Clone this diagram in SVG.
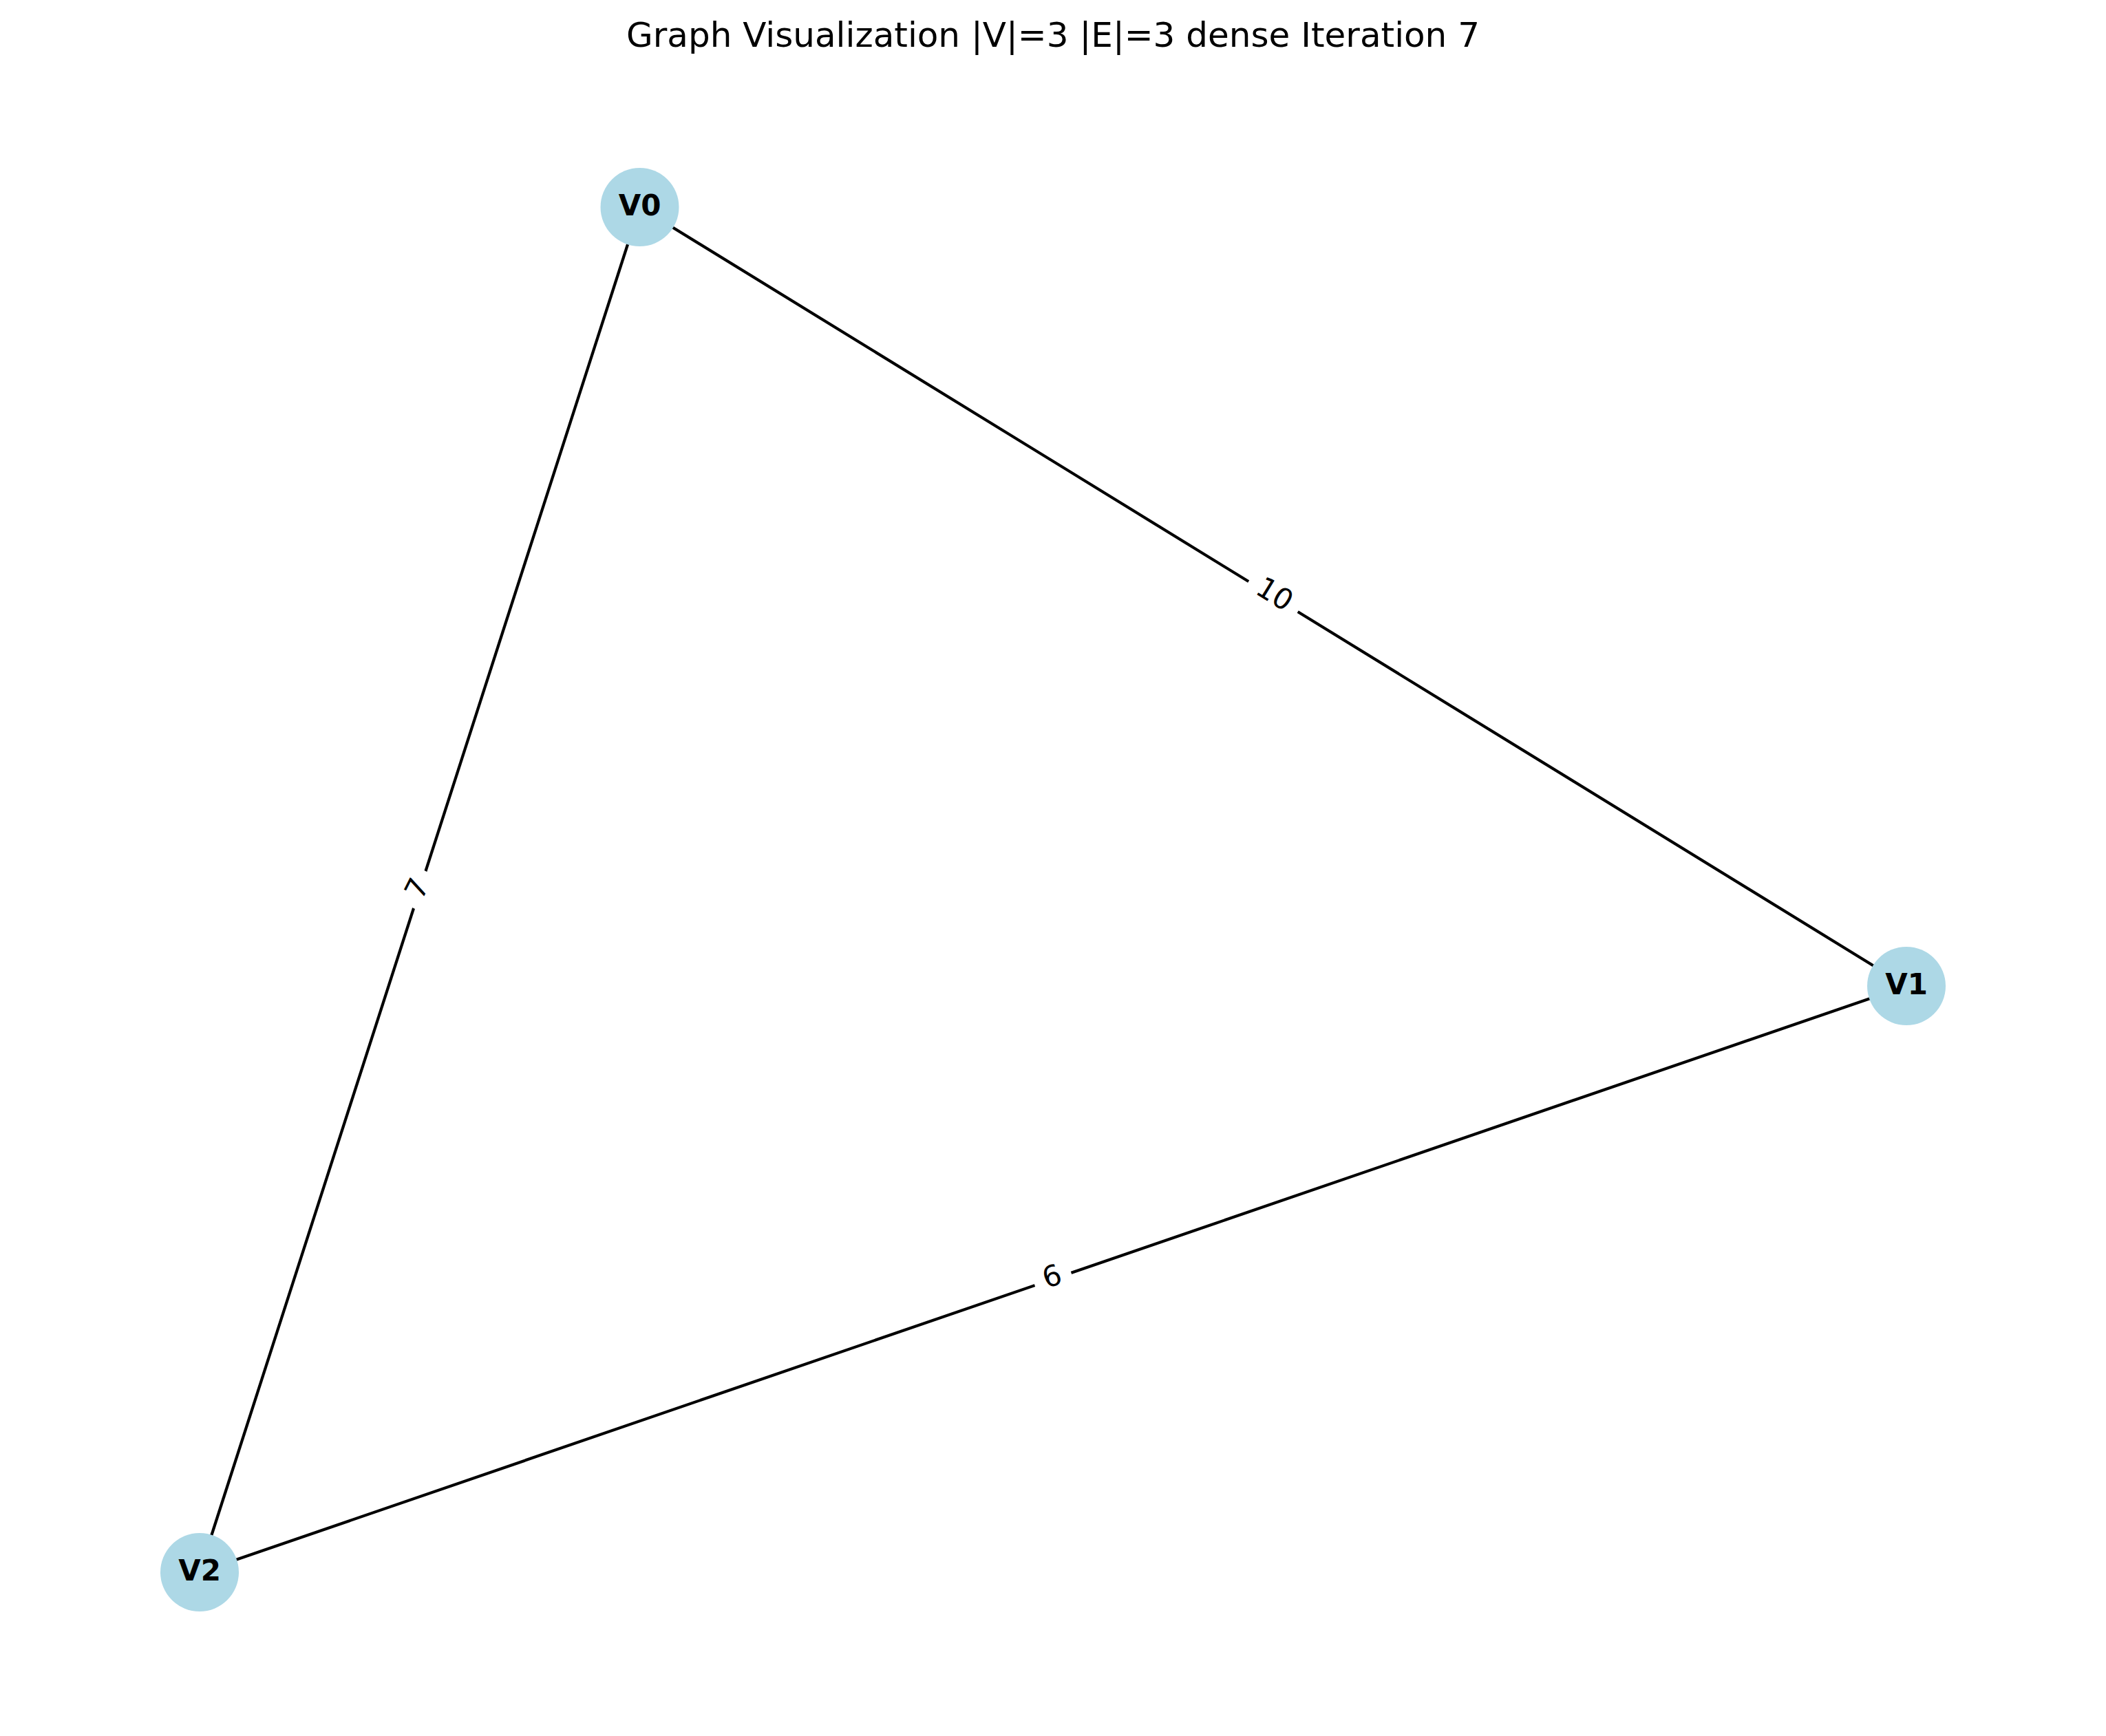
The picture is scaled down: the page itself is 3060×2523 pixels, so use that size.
<svg xmlns="http://www.w3.org/2000/svg" width="3060" height="2523" viewBox="0 0 3060 2523">
  <style>
    .title { font-family: "DejaVu Sans", sans-serif; font-size: 50px; fill: #000; }
    .edge { stroke: #000; stroke-width: 4.2; stroke-linecap: butt; fill: none; }
    .node circle { fill: #ADD8E6; }
    .node text { font-family: "DejaVu Sans", sans-serif; font-size: 42px; font-weight: bold; fill: #000; text-anchor: middle; }
    .elabel rect { fill: #fff; stroke: none; }
    .elabel text { font-family: "DejaVu Sans", sans-serif; font-size: 42px; fill: #000; text-anchor: middle; }
  </style>
  <rect width="3060" height="2523" fill="#fff"/>
  <text class="title" x="1530" y="68" text-anchor="middle">Graph Visualization |V|=3 |E|=3 dense Iteration 7</text>

  <g id="connectors">
    <line class="edge" x1="929.5" y1="301" x2="2770" y2="1433"/>
    <line class="edge" x1="929.5" y1="301" x2="290" y2="2285"/>
    <line class="edge" x1="2770" y1="1433" x2="290" y2="2285"/>
    <!-- weight labels, centred on each edge and turned to its slope -->
    <g class="elabel" transform="translate(1850,867) rotate(31.6)">
      <rect x="-42" y="-37" width="84" height="74" rx="12"/>
      <text x="0" y="10">10</text>
    </g>
    <g class="elabel" transform="translate(609.75,1293) rotate(-63.5)">
      <rect x="-28" y="-37" width="56" height="74" rx="12"/>
      <text x="0" y="10">7</text>
    </g>
    <g class="elabel" transform="translate(1530,1859) rotate(-19)">
      <rect x="-28" y="-37" width="56" height="74" rx="12"/>
      <text x="0" y="10">6</text>
    </g>
  </g>

  <g id="V0" class="node">
    <circle cx="929.5" cy="301" r="57"/>
    <text x="929.5" y="312.5">V0</text>
  </g>
  <g id="V1" class="node">
    <circle cx="2770" cy="1433" r="57"/>
    <text x="2770" y="1444.5">V1</text>
  </g>
  <g id="V2" class="node">
    <circle cx="290" cy="2285" r="57"/>
    <text x="290" y="2296.5">V2</text>
  </g>
</svg>
